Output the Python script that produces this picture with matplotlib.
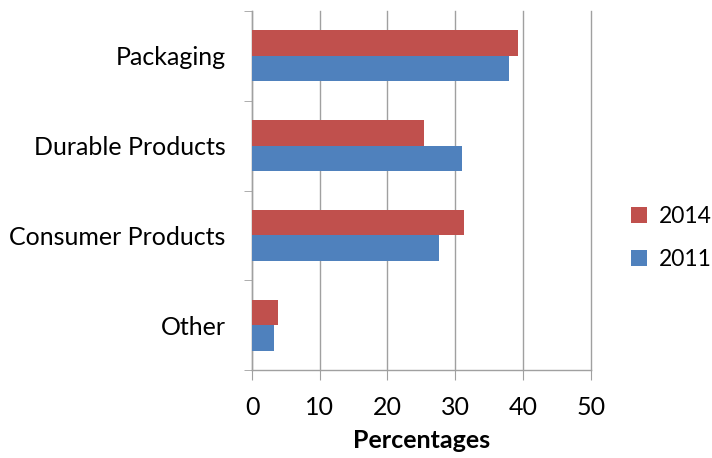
import matplotlib.pyplot as plt
import numpy as np

categories = ["Other", "Consumer Products", "Durable Products", "Packaging"]
values_2014 = [3.9, 31.3, 25.4, 39.2]
values_2011 = [3.3, 27.6, 31.0, 37.9]

plt.rcParams["font.family"] = ["Lato", "DejaVu Sans"]

fig = plt.figure(figsize=(7.12, 4.58), dpi=100)
ax = fig.add_axes([0.354, 0.192, 0.4756, 0.784])

y = np.arange(len(categories))
h = 0.285
ax.barh(y + h / 2, values_2014, height=h, color="#C0504D", label="2014", zorder=3)
ax.barh(y - h / 2, values_2011, height=h, color="#4F81BD", label="2011", zorder=3)

ax.set_xlim(0, 50)
ax.set_ylim(-0.5, len(categories) - 0.5)
ax.set_xticks(range(0, 51, 10))
ax.set_yticks(y)
ax.set_yticklabels(categories)
ax.set_yticks(np.arange(-0.5, len(categories), 1), minor=True)

ax.grid(axis="x", color="#A0A0A0", linewidth=1, zorder=0)
for line in ax.get_xgridlines():
    line.set_clip_on(False)
for s in ["top", "right"]:
    ax.spines[s].set_visible(False)
for s in ["left", "bottom"]:
    ax.spines[s].set_color("#A0A0A0")
    ax.spines[s].set_linewidth(1)

ax.tick_params(axis="y", which="major", length=0, pad=19, labelsize=18)
ax.tick_params(axis="y", which="minor", length=6, color="#A0A0A0")
ax.tick_params(axis="x", length=7, color="#A0A0A0", labelsize=18, pad=12)
ax.set_xlabel("Percentages", fontsize=18, fontweight="bold", labelpad=7)

handles, labels = ax.get_legend_handles_labels()
ax.legend(handles, labels, loc="center left", bbox_to_anchor=(1.12, 0.368),
          frameon=False, fontsize=16.5, handlelength=0.7, handleheight=0.7,
          handletextpad=0.5, labelspacing=0.95, borderpad=0, borderaxespad=0)

fig.savefig("out.png", dpi=100)
